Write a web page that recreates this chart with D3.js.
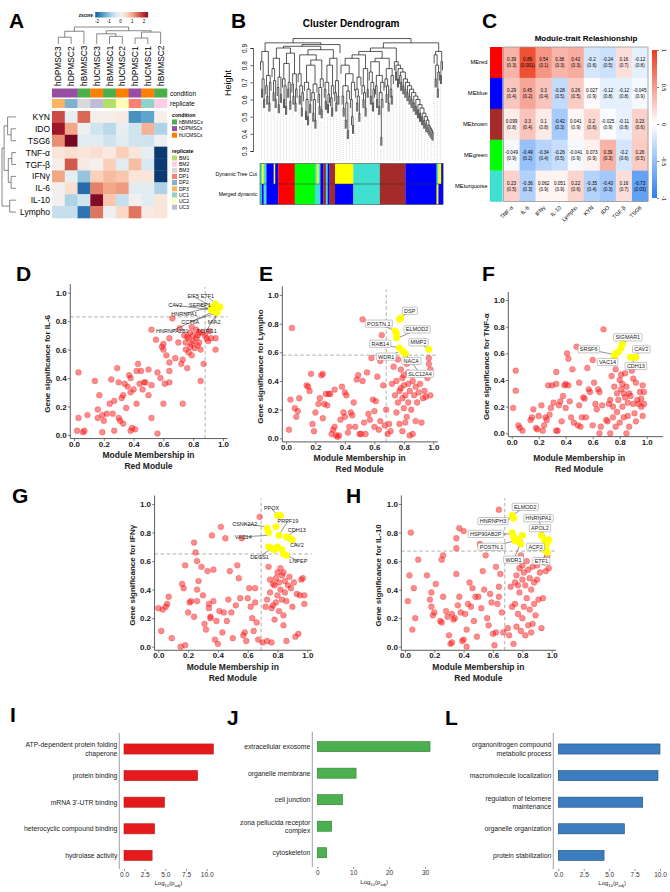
<!DOCTYPE html>
<html>
<head>
<meta charset="utf-8">
<script src="https://cdn.jsdelivr.net/npm/d3@7"></script>
<style>
  body { margin: 0; background: #fff; }
  svg { font-family: "Liberation Sans", Arial, Helvetica, sans-serif; }
</style>
</head>
<body>
<div id="fig"></div>
<script>
// ---------- Panel A data ----------
const aCols = ['hDPMSC3', 'hDPMSC2', 'hBMMSC3', 'hUCMSC3', 'hBMMSC1', 'hUCMSC2', 'hDPMSC1', 'hUCMSC1', 'hBMMSC2'];
const aRows = ['KYN', 'IDO', 'TSG6', 'TNF-α', 'TGF-β', 'IFNγ', 'IL-6', 'IL-10', 'Lympho'];
const aZ = [
  [1.7, -0.2, 1.5, 0.1, 0.1, 0.2, -1.6, -1.4, 0.1],
  [2.2, 1.0, -0.1, -0.5, -0.7, -0.2, -0.5, 0.9, -0.8],
  [1.2, 2.5, -0.3, -0.3, -0.5, -0.3, -0.5, -0.5, -0.1],
  [0.3, 0.4, 0.3, 0.4, 0.2, 0.6, 0.3, -0.2, -2.5],
  [0.1, 1.6, 0.2, 0.0, 0.6, -0.3, 0.8, -0.4, -2.5],
  [1.0, -0.2, -1.0, 0.6, 0.8, 0.7, 0.3, 0.3, -2.5],
  [0.0, 0.4, -2.0, 1.3, 1.0, 1.1, -0.3, -0.3, -0.8],
  [0.0, -0.8, -0.5, 2.4, 0.7, -0.6, 0.0, -0.3, 0.3],
  [-0.6, -0.6, -1.9, 1.4, -0.1, 0.5, 1.4, 0.2, 0.3]
];
const aCondition = ['hDPMSCs', 'hDPMSCs', 'hBMMSCs', 'hUCMSCs', 'hBMMSCs', 'hUCMSCs', 'hDPMSCs', 'hUCMSCs', 'hBMMSCs'];
const aReplicate = ['DP3', 'DP2', 'BM3', 'UC3', 'BM1', 'UC2', 'DP1', 'UC1', 'BM2'];
const condNames = ['hBMMSCs', 'hDPMSCs', 'hUCMSCs'];
const condColors = ['#4daf4a', '#984ea3', '#ff7f00'];
const repNames = ['BM1', 'BM2', 'BM3', 'DP1', 'DP2', 'DP3', 'UC1', 'UC2', 'UC3'];
const repColors = ['#b3de69', '#fccde5', '#d9d9d9', '#fb8072', '#80b1d3', '#fdb462', '#8dd3c7', '#ffffb3', '#bebada'];
// hclust style merges: negative = leaf (1-based), positive = earlier merge row
const aRowMerge = [[-2, -3, 0.35], [-1, 1, 0.6], [-4, -5, 0.3], [-6, -7, 0.35], [3, 4, 0.55], [2, 5, 0.85], [-8, -9, 0.45], [6, 7, 1.0]];
const aColMerge = [[-1, -2, 0.4], [1, -3, 0.75], [-5, -6, 0.45], [-4, 3, 0.6], [-7, -8, 0.35], [5, -9, 0.7], [4, 6, 0.78], [2, 7, 1.0]];
const zTicks = [-2, -1, 0, 1, 2];

// ---------- Panel B data ----------
// merge height between neighbouring leaves, left to right
const bGaps = [
  0.82, 0.66, 0.72, 0.60, 0.88, 0.68, 0.62, 0.74, 0.58, 0.70, 0.93, 0.78, 0.64, 0.71, 0.60, 0.84, 0.67, 0.57, 0.73, 0.63, 0.90, 0.72, 0.60, 0.68, 0.56, 0.81, 0.66, 0.70, 0.59, 0.87, 0.69, 0.62, 0.75, 0.58, 0.66, 0.91,
  0.75, 0.62, 0.68, 0.55, 0.64, 0.86, 0.70, 0.53, 0.60, 0.50, 0.66, 0.57, 0.80, 0.64, 0.52, 0.60, 0.48, 0.69, 0.83, 0.63, 0.56, 0.67, 0.54, 0.72, 0.89, 0.66, 0.59, 0.70, 0.57, 0.63, 0.80, 0.61, 0.55, 0.68, 0.84, 0.64, 0.58, 0.71, 0.62, 0.92,
  0.955,
  0.80, 0.62, 0.55, 0.68, 0.48, 0.58, 0.42, 0.65, 0.75, 0.60, 0.50, 0.45, 0.70, 0.84, 0.66, 0.58, 0.62, 0.52, 0.73, 0.86, 0.68, 0.60, 0.64, 0.55, 0.78, 0.66, 0.88,
  0.76, 0.62, 0.70, 0.58, 0.66, 0.82, 0.68, 0.60, 0.74, 0.56, 0.64, 0.38, 0.60, 0.70, 0.84, 0.72, 0.63, 0.68, 0.58, 0.78, 0.66, 0.62, 0.74,
  0.90,
  0.82, 0.76, 0.80, 0.72, 0.78, 0.74, 0.70, 0.76, 0.68, 0.72, 0.66, 0.70, 0.64, 0.68, 0.62, 0.66, 0.60, 0.64, 0.58, 0.62, 0.56, 0.60, 0.54, 0.57, 0.52, 0.55, 0.50, 0.52, 0.48, 0.50, 0.46, 0.48, 0.45, 0.44, 0.43, 0.42, 0.41,
  0.93,
  0.86, 0.72, 0.80, 0.66, 0.76, 0.88, 0.74, 0.82
];
const bTicks = [0.3, 0.4, 0.5, 0.6, 0.7, 0.8, 0.9];
const bDynamic = [
  [0, 0.01, '#40e0d0'], [0.01, 0.02, '#ffff00'], [0.02, 0.035, '#40e0d0'], [0.035, 0.075, '#0000ff'], [0.075, 0.083, '#ffff00'],
  [0.083, 0.1, '#0000ff'], [0.1, 0.19, '#ff0000'], [0.19, 0.3, '#00ff00'], [0.3, 0.31, '#40e0d0'], [0.31, 0.32, '#ffff00'],
  [0.32, 0.33, '#40e0d0'], [0.33, 0.345, '#0000ff'], [0.345, 0.36, '#a52a2a'], [0.36, 0.37, '#40e0d0'], [0.37, 0.38, '#0000ff'],
  [0.38, 0.41, '#a52a2a'], [0.41, 0.51, '#ffff00'], [0.51, 0.655, '#40e0d0'], [0.655, 0.795, '#a52a2a'], [0.795, 0.965, '#0000ff'],
  [0.965, 0.975, '#40e0d0'], [0.975, 0.99, '#ffff00'], [0.99, 1, '#0000ff']
];
const bMerged = [
  [0, 0.01, '#40e0d0'], [0.01, 0.02, '#0000ff'], [0.02, 0.035, '#40e0d0'], [0.035, 0.1, '#0000ff'], [0.1, 0.19, '#ff0000'],
  [0.19, 0.3, '#00ff00'], [0.3, 0.33, '#40e0d0'], [0.33, 0.345, '#0000ff'], [0.345, 0.36, '#a52a2a'], [0.36, 0.37, '#40e0d0'],
  [0.37, 0.38, '#0000ff'], [0.38, 0.41, '#a52a2a'], [0.41, 0.51, '#0000ff'], [0.51, 0.655, '#40e0d0'], [0.655, 0.795, '#a52a2a'],
  [0.795, 0.965, '#0000ff'], [0.965, 0.975, '#ffff00'], [0.975, 1, '#0000ff']
];

// ---------- Panel C data ----------
const cModules = ['MEred', 'MEblue', 'MEbrown', 'MEgreen', 'MEturquoise'];
const cModuleColors = ['#ff0000', '#0000ff', '#a52a2a', '#00ff00', '#40e0d0'];
const cTraits = ['TNF-α', 'IL-6', 'IFNγ', 'IL-10', 'Lympho', 'KYN', 'IDO', 'TGF-β', 'TSG6'];
const cCor = [
  [0.39, 0.89, 0.54, 0.38, 0.42, -0.2, -0.24, 0.16, -0.12],
  [0.29, 0.45, 0.3, -0.28, 0.26, 0.027, -0.12, -0.12, -0.045],
  [0.099, 0.3, 0.1, -0.42, 0.041, 0.2, -0.025, -0.11, 0.23],
  [-0.049, -0.49, -0.34, -0.26, -0.041, 0.073, 0.39, -0.2, 0.26],
  [0.23, -0.36, 0.062, 0.051, 0.22, -0.35, -0.43, 0.16, -0.73]
];
const cP = [
  [0.3, 0.001, 0.1, 0.3, 0.3, 0.6, 0.5, 0.7, 0.8],
  [0.4, 0.2, 0.4, 0.5, 0.5, 0.9, 0.8, 0.8, 0.9],
  [0.8, 0.4, 0.8, 0.3, 0.9, 0.6, 0.9, 0.8, 0.6],
  [0.9, 0.2, 0.4, 0.5, 0.9, 0.9, 0.3, 0.6, 0.5],
  [0.5, 0.3, 0.9, 0.9, 0.6, 0.4, 0.3, 0.7, 0.03]
];
const cTicks = [1, 0.5, 0, -0.5, -1];

// ---------- Scatter data (module membership, gene significance) ----------
const dRed = [[0.03,0.44],[0.02,0.03],[0.03,0.12],[0.06,0.02],[0.07,0.03],[0.09,0.14],[0.14,0.38],[0.16,0.18],[0.17,0.28],[0.16,0.12],[0.19,0.14],[0.2,0.1],[0.19,0.02],[0.22,0.15],[0.24,0.22],[0.25,0.39],[0.27,0.24],[0.26,0.15],[0.27,0.03],[0.29,0.47],[0.3,0.37],[0.3,0.12],[0.31,0.1],[0.32,0.26],[0.33,0.28],[0.33,0.08],[0.34,0.36],[0.35,0.19],[0.36,0.34],[0.37,0.42],[0.38,0.4],[0.38,0.3],[0.39,0.05],[0.38,0.03],[0.4,0.32],[0.41,0.04],[0.42,0.45],[0.42,0.22],[0.43,0.5],[0.44,0.36],[0.45,0.45],[0.46,0.32],[0.47,0.37],[0.48,0.37],[0.5,0.46],[0.5,0.28],[0.52,0.74],[0.52,0.35],[0.52,0.12],[0.55,0.67],[0.56,0.44],[0.56,0.01],[0.58,0.4],[0.59,0.62],[0.6,0.64],[0.6,0.6],[0.6,0.22],[0.61,0.36],[0.62,0.56],[0.64,0.68],[0.64,0.51],[0.64,0.45],[0.64,0.37],[0.66,0.82],[0.68,0.54],[0.7,0.65],[0.71,0.75],[0.72,0.5],[0.73,0.53],[0.73,0.22],[0.74,0.7],[0.75,0.6],[0.75,0.65],[0.76,0.47],[0.77,0.58],[0.77,0.68],[0.78,0.72],[0.78,0.62],[0.79,0.64],[0.79,0.56],[0.8,0.7],[0.8,0.66],[0.81,0.61],[0.82,0.68],[0.82,0.74],[0.83,0.7],[0.83,0.63],[0.84,0.65],[0.85,0.6],[0.85,0.38],[0.86,0.72],[0.87,0.5],[0.88,0.7],[0.89,0.68],[0.9,0.66],[0.91,0.73],[0.92,0.68],[0.95,0.6],[0.95,0.68],[0.84,0.72],[0.76,0.69],[0.79,0.76]];
const dYellow = [[0.93,0.9],[0.95,0.92],[0.97,0.89],[0.94,0.87],[0.96,0.86],[0.98,0.9],[0.92,0.88]];
const dLabels = [['EIF5',0.8,0.975,0.93,0.9],['ETF1',0.895,0.975,0.95,0.92],['CAV2',0.68,0.912,0.92,0.88],['SERBP1',0.845,0.912,0.94,0.87],['HNRNPA1',0.74,0.853,0.93,0.9],['CCT6A',0.78,0.795,0.96,0.86],['MIA2',0.94,0.795,0.97,0.89],['HNRNPA2B1',0.66,0.733,0.94,0.87],['TCIRG1',0.89,0.733,0.96,0.86]];

const eRed = [[0.04,0.77],[0.03,0.27],[0.02,0.06],[0.06,0.21],[0.07,0.15],[0.08,0.19],[0.09,0.28],[0.14,0.37],[0.15,0.36],[0.16,0.33],[0.17,0.45],[0.18,0.1],[0.19,0.05],[0.2,0.18],[0.22,0.24],[0.23,0.28],[0.24,0.44],[0.25,0.45],[0.25,0.14],[0.26,0.24],[0.27,0.31],[0.28,0.23],[0.29,0.31],[0.3,0.31],[0.31,0.03],[0.32,0.06],[0.33,0.08],[0.33,0.34],[0.34,0.02],[0.35,0.01],[0.36,0.02],[0.37,0.13],[0.38,0.36],[0.39,0.18],[0.4,0.15],[0.4,0.32],[0.41,0.3],[0.42,0.04],[0.43,0.08],[0.44,0.18],[0.45,0.16],[0.46,0.25],[0.47,0.08],[0.48,0.41],[0.49,0.44],[0.5,0.03],[0.51,0.03],[0.52,0.4],[0.52,0.83],[0.53,0.11],[0.54,0.03],[0.55,0.46],[0.56,0.17],[0.57,0.13],[0.58,0.56],[0.59,0.27],[0.6,0.08],[0.61,0.26],[0.6,0.19],[0.62,0.43],[0.63,0.06],[0.64,0.12],[0.64,0.54],[0.65,0.72],[0.66,0.37],[0.67,0.09],[0.68,0.2],[0.69,0.03],[0.7,0.1],[0.71,0.05],[0.72,0.38],[0.73,0.5],[0.74,0.3],[0.75,0.4],[0.75,0.18],[0.76,0.25],[0.76,0.55],[0.77,0.1],[0.77,0.33],[0.78,0.35],[0.78,0.48],[0.79,0.28],[0.79,0.05],[0.8,0.37],[0.8,0.21],[0.8,0.44],[0.81,0.3],[0.82,0.15],[0.82,0.52],[0.83,0.38],[0.83,0.25],[0.84,0.33],[0.84,0.02],[0.85,0.2],[0.85,0.45],[0.86,0.03],[0.86,0.4],[0.87,0.3],[0.88,0.12],[0.88,0.36],[0.89,0.25],[0.9,0.32],[0.91,0.38],[0.92,0.11],[0.93,0.28],[0.94,0.33],[0.95,0.29],[0.96,0.42],[0.97,0.56],[0.97,0.52],[0.98,0.48],[0.98,0.3],[0.81,0.11],[0.79,0.42],[0.83,0.46]];
const eYellow = [[0.78,0.84],[0.77,0.83],[0.74,0.75],[0.75,0.73],[0.75,0.7],[0.77,0.63],[0.79,0.61],[0.97,0.62],[0.81,0.59],[0.8,0.6]];
const eLabels = [['DSP',0.84,0.89,0.78,0.84],['POSTN.1',0.63,0.8,0.74,0.75],['ELMOD2',0.89,0.76,0.76,0.7],['RAB14',0.64,0.66,0.77,0.63],['MMP2',0.9,0.67,0.97,0.62],['WDR1',0.68,0.57,0.76,0.6],['NACA',0.85,0.54,0.8,0.6],['SLC12A4',0.91,0.45,0.81,0.59]];

const fRed = [[0.01,0.19],[0.03,0.47],[0.03,0.32],[0.05,0.06],[0.06,0.04],[0.08,0.02],[0.14,0.1],[0.15,0.12],[0.16,0.18],[0.18,0.04],[0.19,0.03],[0.2,0.13],[0.22,0.21],[0.23,0.02],[0.24,0.06],[0.25,0.12],[0.26,0.1],[0.27,0.36],[0.28,0.14],[0.29,0.19],[0.3,0.36],[0.31,0.23],[0.33,0.37],[0.33,0.46],[0.33,0.02],[0.34,0.02],[0.35,0.21],[0.36,0.24],[0.37,0.09],[0.38,0.28],[0.39,0.36],[0.4,0.37],[0.4,0.19],[0.41,0.6],[0.42,0.56],[0.42,0.36],[0.43,0.24],[0.44,0.12],[0.45,0.48],[0.46,0.08],[0.48,0.65],[0.49,0.06],[0.5,0.21],[0.5,0.38],[0.51,0.05],[0.52,0.12],[0.53,0.27],[0.54,0.26],[0.55,0.12],[0.56,0.49],[0.57,0.33],[0.58,0.31],[0.6,0.55],[0.6,0.06],[0.61,0.38],[0.62,0.22],[0.63,0.18],[0.64,0.33],[0.65,0.0],[0.65,0.31],[0.66,0.05],[0.67,0.21],[0.68,0.78],[0.7,0.1],[0.71,0.09],[0.72,0.22],[0.73,0.0],[0.73,0.25],[0.74,0.43],[0.75,0.12],[0.75,0.2],[0.76,0.35],[0.77,0.48],[0.77,0.05],[0.78,0.3],[0.78,0.16],[0.79,0.25],[0.8,0.4],[0.8,0.08],[0.81,0.33],[0.81,0.44],[0.82,0.37],[0.82,0.2],[0.83,0.12],[0.83,0.3],[0.84,0.45],[0.84,0.27],[0.85,0.0],[0.85,0.35],[0.86,0.23],[0.86,0.13],[0.87,0.3],[0.87,0.05],[0.88,0.28],[0.89,0.47],[0.9,0.22],[0.9,0.41],[0.91,0.15],[0.92,0.38],[0.93,0.25],[0.94,0.22],[0.95,0.31],[0.96,0.26],[0.97,0.36],[0.97,0.13],[0.98,0.31],[0.98,0.22],[0.92,0.09],[0.96,0.2]];
const fYellow = [[0.77,0.6],[0.79,0.61],[0.81,0.64],[0.82,0.67],[0.76,0.58],[0.88,0.57],[0.9,0.57],[0.92,0.57]];
const fLabels = [['SIGMAR1',0.86,0.72,0.81,0.64],['SRSF6',0.57,0.63,0.76,0.59],['CAV2',0.96,0.63,0.92,0.58],['VAC14',0.71,0.535,0.77,0.59],['CDH13',0.92,0.505,0.89,0.56]];

const gRed = [[0.0,0.27],[0.03,0.26],[0.02,0.11],[0.05,0.28],[0.06,0.3],[0.07,0.35],[0.09,0.06],[0.15,0.0],[0.16,0.44],[0.17,0.41],[0.18,0.57],[0.18,0.01],[0.2,0.24],[0.21,0.31],[0.22,0.32],[0.24,0.21],[0.24,0.73],[0.25,0.66],[0.26,0.32],[0.26,0.4],[0.26,0.6],[0.27,0.46],[0.29,0.56],[0.3,0.36],[0.31,0.16],[0.32,0.12],[0.33,0.53],[0.34,0.3],[0.34,0.27],[0.35,0.21],[0.35,0.2],[0.36,0.78],[0.37,0.54],[0.37,0.32],[0.38,0.05],[0.39,0.18],[0.4,0.02],[0.41,0.25],[0.42,0.84],[0.43,0.1],[0.44,0.24],[0.45,0.76],[0.46,0.18],[0.47,0.33],[0.48,0.53],[0.49,0.24],[0.5,0.06],[0.52,0.29],[0.53,0.57],[0.54,0.48],[0.55,0.34],[0.56,0.76],[0.57,0.08],[0.58,0.1],[0.59,0.04],[0.6,0.34],[0.61,0.41],[0.62,0.28],[0.63,0.2],[0.64,0.11],[0.65,0.41],[0.65,0.31],[0.66,0.17],[0.67,0.05],[0.68,0.91],[0.7,0.03],[0.72,0.28],[0.73,0.04],[0.73,0.33],[0.74,0.56],[0.75,0.47],[0.75,0.38],[0.76,0.27],[0.76,0.03],[0.77,0.29],[0.77,0.44],[0.78,0.19],[0.79,0.48],[0.79,0.31],[0.8,0.52],[0.8,0.36],[0.81,0.45],[0.81,0.25],[0.82,0.55],[0.82,0.4],[0.83,0.33],[0.83,0.5],[0.84,0.22],[0.84,0.15],[0.85,0.38],[0.85,0.46],[0.86,0.04],[0.86,0.32],[0.87,0.43],[0.88,0.49],[0.89,0.41],[0.9,0.28],[0.91,0.45],[0.92,0.07],[0.93,0.37],[0.94,0.09],[0.95,0.36],[0.96,0.47],[0.97,0.48],[0.98,0.3],[0.98,0.36],[0.84,0.52],[0.78,0.43]];
const gYellow = [[0.8,0.92],[0.82,0.92],[0.73,0.83],[0.74,0.8],[0.79,0.84],[0.81,0.78],[0.86,0.77],[0.88,0.76],[0.9,0.75],[0.74,0.7],[0.76,0.69],[0.78,0.68],[0.8,0.7],[0.83,0.68],[0.84,0.65],[0.86,0.64]];
const gLabels = [['PPOX',0.76,0.97,0.8,0.92],['CSNK2A2',0.58,0.86,0.73,0.84],['PRPF19',0.87,0.88,0.82,0.8],['CDH13',0.93,0.82,0.86,0.77],['VAC14',0.57,0.77,0.73,0.78],['CAV2',0.93,0.71,0.9,0.75],['DEGS1',0.68,0.63,0.76,0.69],['LNPEP',0.94,0.6,0.84,0.65]];

const hRed = [[0.02,0.32],[0.03,0.5],[0.04,0.8],[0.05,0.12],[0.06,0.41],[0.07,0.2],[0.09,0.61],[0.15,0.5],[0.17,0.33],[0.18,0.38],[0.18,0.28],[0.19,0.22],[0.2,0.24],[0.21,0.44],[0.24,0.18],[0.25,0.17],[0.25,0.61],[0.26,0.64],[0.26,0.35],[0.28,0.25],[0.29,0.21],[0.3,0.08],[0.31,0.02],[0.32,0.03],[0.32,0.23],[0.33,0.19],[0.34,0.2],[0.35,0.51],[0.35,0.69],[0.35,0.76],[0.36,0.29],[0.37,0.83],[0.37,0.35],[0.38,0.24],[0.39,0.04],[0.4,0.05],[0.4,0.81],[0.41,0.23],[0.42,0.0],[0.42,0.12],[0.43,0.3],[0.44,0.45],[0.45,0.28],[0.46,0.41],[0.47,0.18],[0.48,0.35],[0.49,0.07],[0.5,0.35],[0.51,0.72],[0.52,0.27],[0.53,0.53],[0.54,0.4],[0.55,0.64],[0.56,0.2],[0.57,0.15],[0.58,0.37],[0.59,0.31],[0.6,0.09],[0.61,0.01],[0.62,0.1],[0.62,0.56],[0.63,0.3],[0.64,0.35],[0.64,0.42],[0.64,0.96],[0.65,0.51],[0.66,0.24],[0.67,0.1],[0.7,0.13],[0.71,0.08],[0.72,0.42],[0.73,0.28],[0.74,0.02],[0.75,0.45],[0.75,0.3],[0.76,0.5],[0.76,0.14],[0.77,0.23],[0.77,0.43],[0.78,0.55],[0.78,0.38],[0.79,0.11],[0.79,0.64],[0.8,0.57],[0.8,0.2],[0.8,0.47],[0.81,0.28],[0.81,0.52],[0.82,0.08],[0.82,0.43],[0.83,0.34],[0.83,0.6],[0.84,0.15],[0.84,0.54],[0.85,0.48],[0.85,0.26],[0.86,0.1],[0.86,0.4],[0.87,0.16],[0.87,0.56],[0.88,0.3],[0.88,0.45],[0.89,0.22],[0.9,0.47],[0.9,0.57],[0.91,0.33],[0.92,0.52],[0.93,0.13],[0.94,0.34],[0.95,0.59],[0.96,0.53],[0.97,0.63],[0.98,0.55]];
const hYellow = [[0.73,0.92],[0.74,0.9],[0.73,0.8],[0.74,0.77],[0.75,0.74],[0.77,0.75],[0.8,0.78],[0.79,0.72],[0.93,0.78],[0.95,0.75],[0.96,0.7],[0.97,0.73],[0.98,0.75],[0.95,0.68],[0.97,0.66]];
const hLabels = [['ELMOD2',0.82,0.98,0.73,0.92],['HNRNPH3',0.6,0.88,0.74,0.9],['HNRNPA1',0.91,0.9,0.95,0.76],['APOL2',0.92,0.83,0.95,0.78],['HSP90AB2P',0.55,0.79,0.73,0.79],['POSTN.1',0.59,0.7,0.74,0.74],['ACP2',0.89,0.7,0.95,0.72],['WDR1',0.74,0.61,0.8,0.75],['ETF1',0.93,0.6,0.97,0.67]];
const axisTicks = [0, 0.2, 0.4, 0.6, 0.8, 1.0];

// ---------- GO enrichment data ----------
const goITerms = ['ATP-dependent protein folding\nchaperone', 'protein binding', "mRNA 3'-UTR binding", 'heterocyclic compound binding', 'hydrolase activity'];
const goIValues = [10.8, 8.9, 4.9, 3.7, 3.4];
const goJTerms = ['extracellular exosome', 'organelle membrane', 'cell junction', 'zona pellucida receptor\ncomplex', 'cytoskeleton'];
const goJValues = [31.4, 10.8, 7.0, 4.0, 2.6];
const goLTerms = ['organonitrogen compound\nmetabolic process', 'macromolecule localization', 'regulation of telomere\nmaintenance', 'organelle organization', 'protein stabilization'];
const goLValues = [10.0, 9.8, 8.3, 6.5, 4.5];
const goSmallTicks = [0, 2.5, 5, 7.5, 10];
const goBigTicks = [0, 10, 20, 30];

// ===================================================
const svg = d3.select('#fig').append('svg').attr('width', 670).attr('height', 892);

function letter(t, x, y) {
  svg.append('text').attr('x', x).attr('y', y).text(t)
    .style('font-size', '21px').style('font-weight', 'bold');
}

// ---------- Panel A ----------
letter('A', 9, 28);
const aX = d3.scaleBand().domain(aCols).range([52, 167]);
const aY = d3.scaleBand().domain(aRows).range([111, 218]);
const zColor = d3.scaleSequential(t => d3.interpolateRdBu(1 - t)).domain([-2.6, 2.6]);
const condColor = d3.scaleOrdinal().domain(condNames).range(condColors);
const repColor = d3.scaleOrdinal().domain(repNames).range(repColors);

const gA = svg.append('g');
aZ.forEach((row, i) => {
  gA.selectAll(null).data(row).enter().append('rect')
    .attr('x', (d, j) => aX(aCols[j])).attr('y', aY(aRows[i]))
    .attr('width', aX.bandwidth() + 0.3).attr('height', aY.bandwidth() + 0.3)
    .attr('fill', d => zColor(d));
});
gA.selectAll(null).data(aCondition).enter().append('rect')
  .attr('x', (d, j) => aX(aCols[j])).attr('y', 88.5).attr('width', aX.bandwidth() + 0.3).attr('height', 9)
  .attr('fill', d => condColor(d));
gA.selectAll(null).data(aReplicate).enter().append('rect')
  .attr('x', (d, j) => aX(aCols[j])).attr('y', 99).attr('width', aX.bandwidth() + 0.3).attr('height', 9)
  .attr('fill', d => repColor(d));
gA.append('text').attr('x', 170).attr('y', 96).text('condition').style('font-size', '6.5px');
gA.append('text').attr('x', 170).attr('y', 106).text('replicate').style('font-size', '6.5px');

gA.selectAll(null).data(aRows).enter().append('text')
  .attr('x', 50).attr('y', d => aY(d) + aY.bandwidth() / 2 + 3)
  .attr('text-anchor', 'end').style('font-size', '8.5px').text(d => d);
gA.selectAll(null).data(aCols).enter().append('text')
  .attr('transform', d => `translate(${aX(d) + aX.bandwidth() / 2 + 3},86) rotate(-90)`)
  .style('font-size', '8.4px').text(d => d);

function dendroNodes(merge) {
  const nodes = [];
  merge.forEach(([a, b, h]) => {
    const ca = a < 0 ? { pos: -a - 1, h: 0 } : nodes[a - 1];
    const cb = b < 0 ? { pos: -b - 1, h: 0 } : nodes[b - 1];
    nodes.push({ pos: (ca.pos + cb.pos) / 2, h, ca, cb });
  });
  return nodes;
}
const colPos = d3.scaleLinear().domain([0, 8]).range([aX(aCols[0]) + aX.bandwidth() / 2, aX(aCols[8]) + aX.bandwidth() / 2]);
const colH = d3.scaleLinear().domain([0, 1]).range([44, 27]);
gA.selectAll(null).data(dendroNodes(aColMerge)).enter().append('path')
  .attr('d', n => `M${colPos(n.ca.pos)},${colH(n.ca.h)}V${colH(n.h)}H${colPos(n.cb.pos)}V${colH(n.cb.h)}`)
  .attr('fill', 'none').attr('stroke', '#555').attr('stroke-width', 0.7);
const rowPos = d3.scaleLinear().domain([0, 8]).range([aY(aRows[0]) + aY.bandwidth() / 2, aY(aRows[8]) + aY.bandwidth() / 2]);
const rowH = d3.scaleLinear().domain([0, 1]).range([16, 2]);
gA.selectAll(null).data(dendroNodes(aRowMerge)).enter().append('path')
  .attr('d', n => `M${rowH(n.ca.h)},${rowPos(n.ca.pos)}H${rowH(n.h)}V${rowPos(n.cb.pos)}H${rowH(n.cb.h)}`)
  .attr('fill', 'none').attr('stroke', '#555').attr('stroke-width', 0.7);

// zscore legend
const zx = d3.scaleLinear().domain([-2, 2]).range([97, 144]);
const defs = svg.append('defs');
const zGrad = defs.append('linearGradient').attr('id', 'zgrad');
d3.range(0, 1.001, 0.1).forEach(t => {
  const v = -2.15 + t * 4.5;
  zGrad.append('stop').attr('offset', t).attr('stop-color', zColor(v));
});
gA.append('rect').attr('x', zx(-2.15)).attr('y', 12).attr('width', zx(2.35) - zx(-2.15)).attr('height', 5.5).attr('fill', 'url(#zgrad)');
gA.append('text').attr('x', 93).attr('y', 16.5).attr('text-anchor', 'end').text('zscore').style('font-size', '4.5px').style('font-weight', 'bold');
gA.selectAll(null).data(zTicks).enter().append('text')
  .attr('x', d => zx(d)).attr('y', 23).attr('text-anchor', 'middle').style('font-size', '4.5px').text(d => d);

// annotation legend
gA.append('text').attr('x', 172).attr('y', 117).text('condition').style('font-size', '5.2px').style('font-weight', 'bold');
condNames.forEach((c, i) => {
  gA.append('rect').attr('x', 172).attr('y', 119.5 + i * 6.6).attr('width', 5).attr('height', 5).attr('fill', condColor(c));
  gA.append('text').attr('x', 179).attr('y', 123.8 + i * 6.6).text(c).style('font-size', '5px');
});
gA.append('text').attr('x', 172).attr('y', 153).text('replicate').style('font-size', '5.2px').style('font-weight', 'bold');
repNames.forEach((c, i) => {
  gA.append('rect').attr('x', 172).attr('y', 155.5 + i * 6.15).attr('width', 5).attr('height', 5).attr('fill', repColor(c));
  gA.append('text').attr('x', 179).attr('y', 159.8 + i * 6.15).text(c).style('font-size', '5px');
});

// ---------- Panel B ----------
letter('B', 231, 28);
const gB = svg.append('g');
gB.append('text').attr('x', 351).attr('y', 27).attr('text-anchor', 'middle')
  .text('Cluster Dendrogram').style('font-size', '10px').style('font-weight', 'bold');
const bY = d3.scaleLinear().domain([0.3, 0.9]).range([151, 48]);
const bN = bGaps.length + 1;
const bX = d3.scaleLinear().domain([0, bN - 1]).range([260.5, 442.5]);
function build(lo, hi) {
  if (lo === hi) return { pos: lo, leaf: true };
  let k = lo;
  for (let i = lo; i < hi; i++) if (bGaps[i] > bGaps[k]) k = i;
  const l = build(lo, k), r = build(k + 1, hi);
  return { pos: (l.pos + r.pos) / 2, h: bGaps[k], l, r };
}
const bRoot = build(0, bN - 1);
const bHang = 0.05;
const bSegs = [], bTips = [];
(function walk(n) {
  if (n.leaf) return;
  [n.l, n.r].forEach(c => {
    const bottom = c.leaf ? n.h - bHang : c.h;
    if (c.leaf) bTips[c.pos] = bottom;
    bSegs.push([c.pos, bottom, c.pos, n.h]);
    walk(c);
  });
  bSegs.push([n.l.pos, n.h, n.r.pos, n.h]);
})(bRoot);
// guide lines
gB.selectAll(null).data(d3.range(1, bN, 3)).enter().append('line')
  .attr('x1', i => bX(i)).attr('x2', i => bX(i))
  .attr('y1', i => bY(bTips[i] - 0.02)).attr('y2', 161)
  .attr('stroke', '#b0b0b0').attr('stroke-width', 0.5).attr('stroke-dasharray', '1,1');
gB.selectAll(null).data(bSegs).enter().append('line')
  .attr('x1', d => bX(d[0])).attr('y1', d => bY(d[1])).attr('x2', d => bX(d[2])).attr('y2', d => bY(d[3]))
  .attr('stroke', '#111').attr('stroke-width', 0.7);
gB.append('g').attr('transform', 'translate(253,0)')
  .call(d3.axisLeft(bY).tickValues(bTicks).tickSize(2.5).tickFormat(d3.format('.1f')))
  .call(g => g.selectAll('text').style('font-size', '6.5px').attr('transform', 'rotate(-90)')
    .attr('x', 0).attr('y', -6).attr('dy', 0).attr('text-anchor', 'middle'))
  .call(g => g.select('.domain').attr('stroke-width', 0.6))
  .call(g => g.selectAll('line').attr('stroke-width', 0.6));
gB.append('text').attr('transform', 'translate(231,83) rotate(-90)').attr('text-anchor', 'middle')
  .text('Height').style('font-size', '9px');
const bFrac = d3.scaleLinear().domain([0, 1]).range([260, 443]);
[[bDynamic, 163.5], [bMerged, 184]].forEach(([segs, y0]) => {
  gB.selectAll(null).data(segs).enter().append('rect')
    .attr('x', d => bFrac(d[0])).attr('width', d => bFrac(d[1]) - bFrac(d[0]) + 0.2)
    .attr('y', y0).attr('height', 20.5).attr('fill', d => d[2]);
});
gB.append('rect').attr('x', 260).attr('y', 163.5).attr('width', 183).attr('height', 41).attr('fill', 'none').attr('stroke', '#333').attr('stroke-width', 0.5);
gB.append('line').attr('x1', 260).attr('x2', 443).attr('y1', 184).attr('y2', 184).attr('stroke', '#333').attr('stroke-width', 0.5);
gB.append('text').attr('x', 257).attr('y', 175.5).attr('text-anchor', 'end').text('Dynamic Tree Cut').style('font-size', '5.2px');
gB.append('text').attr('x', 257).attr('y', 196).attr('text-anchor', 'end').text('Merged dynamic').style('font-size', '5.2px');

// ---------- Panel C ----------
letter('C', 482, 28);
const gC = svg.append('g');
gC.append('text').attr('x', 586).attr('y', 40.5).attr('text-anchor', 'middle')
  .text('Module-trait Relashionship').style('font-size', '8px').style('font-weight', 'bold');
const cX = d3.scaleBand().domain(cTraits).range([503.5, 648]);
const cY = d3.scaleBand().domain(cModules).range([47, 201.5]);
const cColor = d3.scaleLinear().domain([-1, 0, 1]).range(['#2a80f0', '#ffffff', '#ec3a1c']);
cCor.forEach((row, i) => {
  gC.selectAll(null).data(row).enter().append('rect')
    .attr('x', (d, j) => cX(cTraits[j])).attr('y', cY(cModules[i]))
    .attr('width', cX.bandwidth() + 0.3).attr('height', cY.bandwidth() + 0.3).attr('fill', d => cColor(d));
  row.forEach((v, j) => {
    const t = gC.append('text').attr('x', cX(cTraits[j]) + cX.bandwidth() / 2).attr('y', cY(cModules[i]) + cY.bandwidth() / 2 - 1)
      .attr('text-anchor', 'middle').style('font-size', '4.6px');
    t.append('tspan').attr('x', cX(cTraits[j]) + cX.bandwidth() / 2).text(String(v));
    t.append('tspan').attr('x', cX(cTraits[j]) + cX.bandwidth() / 2).attr('dy', 5.6).text('(' + String(cP[i][j]) + ')');
  });
});
gC.append('rect').attr('x', 503.5).attr('y', 47).attr('width', 144.5).attr('height', 154.5)
  .attr('fill', 'none').attr('stroke', '#9a9a9a').attr('stroke-width', 0.8);
gC.selectAll(null).data(cModules).enter().append('rect')
  .attr('x', 490).attr('y', d => cY(d)).attr('width', 12.5).attr('height', cY.bandwidth() + 0.3)
  .attr('fill', (d, i) => cModuleColors[i]);
gC.selectAll(null).data(cModules).enter().append('text')
  .attr('x', 487.5).attr('y', d => cY(d) + cY.bandwidth() / 2 + 2).attr('text-anchor', 'end')
  .style('font-size', '5.8px').text(d => d);
gC.selectAll(null).data(cTraits).enter().append('text')
  .attr('transform', d => `translate(${cX(d) + cX.bandwidth() / 2 + 2},208) rotate(-45)`)
  .attr('text-anchor', 'end').style('font-size', '5.5px').text(d => d);
// colour bar
const cBarY = d3.scaleLinear().domain([-1, 1]).range([198, 50]);
const cGrad = defs.append('linearGradient').attr('id', 'cgrad').attr('x1', 0).attr('x2', 0).attr('y1', 1).attr('y2', 0);
d3.range(0, 1.001, 0.1).forEach(t => {
  cGrad.append('stop').attr('offset', t).attr('stop-color', cColor(-1 + 2 * t));
});
gC.append('rect').attr('x', 652).attr('y', 50).attr('width', 5).attr('height', 148).attr('fill', 'url(#cgrad)');
gC.append('g').attr('transform', 'translate(657,0)')
  .call(d3.axisRight(cBarY).tickValues(cTicks).tickSize(2).tickFormat(d => d))
  .call(g => g.select('.domain').remove())
  .call(g => g.selectAll('line').attr('stroke-width', 0.5))
  .call(g => g.selectAll('text').style('font-size', '5.5px').attr('transform', 'rotate(90)')
    .attr('x', 0).attr('y', -5).attr('dy', 0).attr('text-anchor', 'middle'));

// ---------- Scatter panels ----------
function scatter(p) {
  const g = svg.append('g');
  const x = d3.scaleLinear().domain([0, 1]).range([p.x0, p.x1]);
  const y = d3.scaleLinear().domain([0, 1]).range([p.y0, p.y1]);
  const xL = x(-0.025), yB = y(-0.025);
  if (p.hline != null) {
    g.append('line').attr('x1', xL).attr('x2', x(p.xEnd || 1.03)).attr('y1', y(p.hline)).attr('y2', y(p.hline))
      .attr('stroke', '#9a9a9a').attr('stroke-width', 0.8).attr('stroke-dasharray', '3.5,2.5');
    g.append('line').attr('x1', x(p.vline)).attr('x2', x(p.vline)).attr('y1', yB).attr('y2', y(1.04))
      .attr('stroke', '#9a9a9a').attr('stroke-width', 0.8).attr('stroke-dasharray', '3.5,2.5');
  }
  g.selectAll(null).data(p.red).enter().append('circle')
    .attr('cx', d => x(d[0])).attr('cy', d => y(d[1])).attr('r', 2.9)
    .attr('fill', '#ff1a1a').attr('fill-opacity', 0.5).attr('stroke', '#e00000').attr('stroke-opacity', 0.45).attr('stroke-width', 0.5);
  g.selectAll(null).data(p.labels).enter().append('line')
    .attr('x1', d => x(d[1])).attr('y1', d => y(d[2])).attr('x2', d => x(d[3])).attr('y2', d => y(d[4]))
    .attr('stroke', '#222').attr('stroke-width', 0.5);
  g.selectAll(null).data(p.yellow).enter().append('circle')
    .attr('cx', d => x(d[0])).attr('cy', d => y(d[1])).attr('r', 3.4).attr('fill', '#ffff00');
  p.labels.forEach(d => {
    const lg = g.append('g');
    const t = lg.append('text').attr('x', x(d[1])).attr('y', y(d[2]) + 2).attr('text-anchor', 'middle')
      .style('font-size', '5.5px').attr('fill', '#222').text(d[0]);
    if (p.boxed) {
      const bb = t.node().getBBox();
      lg.insert('rect', 'text').attr('x', bb.x - 1.8).attr('y', bb.y - 0.6).attr('width', bb.width + 3.6).attr('height', bb.height + 1.2)
        .attr('rx', 1).attr('fill', '#fff').attr('stroke', '#888').attr('stroke-width', 0.5);
    }
  });
  // axes
  const ya = g.append('g').attr('transform', `translate(${xL},0)`)
    .call(d3.axisLeft(y).tickValues(axisTicks).tickSize(2.5).tickFormat(d3.format('.1f')));
  const xa = g.append('g').attr('transform', `translate(0,${yB})`)
    .call(d3.axisBottom(x).tickValues(axisTicks).tickSize(2.5).tickFormat(d3.format('.1f')));
  [ya, xa].forEach(a => {
    a.select('.domain').remove();
    a.selectAll('line').attr('stroke', '#333').attr('stroke-width', 0.6);
    a.selectAll('text').style('font-size', '8px').style('font-weight', 'bold').attr('fill', '#222');
  });
  ya.selectAll('text').attr('x', -3.5);
  xa.selectAll('text').attr('y', 2.5);
  g.append('line').attr('x1', xL).attr('x2', xL).attr('y1', yB).attr('y2', y(1.06)).attr('stroke', '#333').attr('stroke-width', 0.8);
  g.append('line').attr('x1', xL).attr('x2', x(p.xEnd || 1.03)).attr('y1', yB).attr('y2', yB).attr('stroke', '#333').attr('stroke-width', 0.8);
  g.append('text').attr('transform', `translate(${p.yt},${(p.y0 + p.y1) / 2}) rotate(-90)`).attr('text-anchor', 'middle')
    .style('font-size', '8px').style('font-weight', 'bold').attr('fill', '#222').text(p.ytitle);
  const cx = (p.x0 + p.x1) / 2;
  g.append('text').attr('x', cx).attr('y', p.xt).attr('text-anchor', 'middle')
    .style('font-size', '8.5px').style('font-weight', 'bold').attr('fill', '#222').text('Module Membership in');
  g.append('text').attr('x', cx).attr('y', p.xt + 10.5).attr('text-anchor', 'middle')
    .style('font-size', '8.5px').style('font-weight', 'bold').attr('fill', '#222').text('Red Module');
}

letter('D', 16, 281);
scatter({ x0: 74, x1: 223, y0: 435, y1: 292.7, red: dRed, yellow: dYellow, labels: dLabels, boxed: false,
  hline: 0.83, vline: 0.88, yt: 50, xt: 458, ytitle: 'Gene significance for IL-6' });
letter('E', 259, 281);
scatter({ x0: 286, x1: 433.3, y0: 438.3, y1: 295, red: eRed, yellow: eYellow, labels: eLabels, boxed: true,
  hline: 0.58, vline: 0.68, yt: 263, xt: 461, ytitle: 'Gene significance for Lympho' });
letter('F', 482, 281);
scatter({ x0: 511.7, x1: 646.7, y0: 433.3, y1: 300, red: fRed, yellow: fYellow, labels: fLabels, boxed: true,
  hline: null, xEnd: 1.12, yt: 489, xt: 461, ytitle: 'Gene significance for TNF-α' });
letter('G', 12, 503);
scatter({ x0: 158.3, x1: 307.3, y0: 646.7, y1: 504, red: gRed, yellow: gYellow, labels: gLabels, boxed: false,
  hline: 0.65, vline: 0.69, yt: 135, xt: 670, ytitle: 'Gene significance for IFNγ' });
letter('H', 346, 503);
scatter({ x0: 405, x1: 551.7, y0: 646.7, y1: 504, red: hRed, yellow: hYellow, labels: hLabels, boxed: true,
  hline: 0.67, vline: 0.68, yt: 381, xt: 670, ytitle: 'Gene significance for IL-10' });

// ---------- GO bar panels ----------
function goBars(p) {
  const g = svg.append('g');
  const x = d3.scaleLinear().domain([0, p.dmax]).range([p.x0, p.x1]);
  const y = d3.scaleBand().domain(p.terms).range([p.yTop, p.yBot]).paddingInner(0.62).paddingOuter(0.31);
  g.selectAll(null).data(p.values).enter().append('rect')
    .attr('x', x(0)).attr('y', (d, i) => y(p.terms[i]))
    .attr('width', d => x(d) - x(0)).attr('height', y.bandwidth())
    .attr('fill', p.fill).attr('stroke', p.stroke).attr('stroke-width', 0.6);
  p.terms.forEach(t => {
    const lines = t.split('\n');
    const cy = y(t) + y.bandwidth() / 2;
    lines.forEach((l, k) => {
      g.append('text').attr('x', p.axisX - 2).attr('y', cy + 2.4 + (k - (lines.length - 1) / 2) * 8.2)
        .attr('text-anchor', 'end').style('font-size', '6.8px').attr('fill', '#222').text(l);
    });
  });
  g.append('line').attr('x1', p.axisX).attr('x2', p.axisX).attr('y1', p.lineTop).attr('y2', p.lineBot)
    .attr('stroke', '#888').attr('stroke-width', 0.8);
  const xa = g.append('g').attr('transform', `translate(0,${p.lineBot})`)
    .call(d3.axisBottom(x).tickValues(p.ticks).tickSize(1.8).tickFormat(p.fmt));
  xa.select('.domain').remove();
  xa.selectAll('line').attr('stroke', '#888');
  xa.selectAll('text').style('font-size', '6.5px').attr('fill', '#333').attr('y', 3.5);
  const tt = g.append('text').attr('x', (p.x0 + p.x1) / 2 + 3).attr('y', p.titleY).attr('text-anchor', 'middle')
    .style('font-size', '6px').attr('fill', '#222');
  tt.append('tspan').text('Log');
  tt.append('tspan').attr('dy', 1.5).style('font-size', '4.2px').text('10');
  tt.append('tspan').attr('dy', -1.5).text('(p');
  tt.append('tspan').attr('dy', 1.5).style('font-size', '4.2px').text('adj');
  tt.append('tspan').attr('dy', -1.5).text(')');
}

letter('I', 10, 722);
goBars({ terms: goITerms, values: goIValues, dmax: 10, x0: 124, x1: 206.7, yTop: 735.7, yBot: 868.7,
  axisX: 119.3, lineTop: 733, lineBot: 869, ticks: goSmallTicks, fmt: d3.format('.1f'), titleY: 885,
  fill: '#e41a1c', stroke: '#b71c1c' });
letter('J', 227, 725);
goBars({ terms: goJTerms, values: goJValues, dmax: 30, x0: 317.3, x1: 425, yTop: 733.4, yBot: 866,
  axisX: 312.3, lineTop: 731.7, lineBot: 867, ticks: goBigTicks, fmt: d3.format('d'), titleY: 884,
  fill: '#4cb050', stroke: '#2e7d32' });
letter('L', 445, 725);
goBars({ terms: goLTerms, values: goLValues, dmax: 10, x0: 558.3, x1: 660, yTop: 735.7, yBot: 868.7,
  axisX: 553.3, lineTop: 733, lineBot: 869, ticks: goSmallTicks, fmt: d3.format('.1f'), titleY: 885,
  fill: '#3c7dc0', stroke: '#1f4e79' });
</script>
</body>
</html>
